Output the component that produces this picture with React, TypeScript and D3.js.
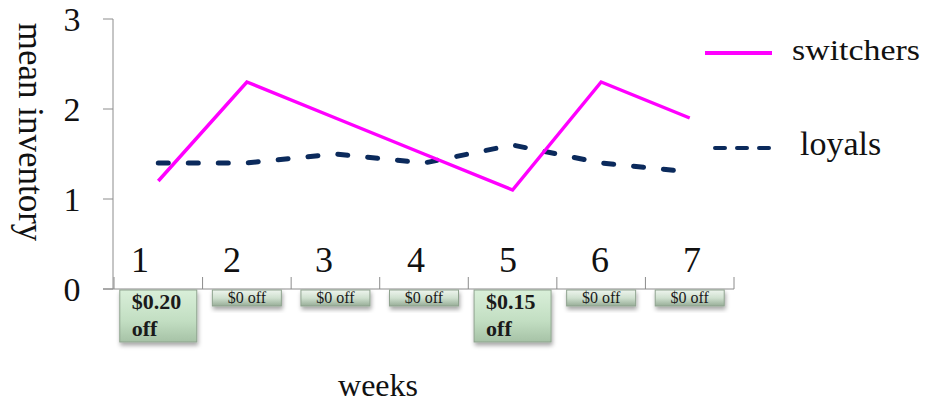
import React from "react";
import * as d3 from "d3";

// weekly data
const weeks = [1, 2, 3, 4, 5, 6, 7];
const switchers = [1.2, 2.3, 1.9, 1.5, 1.1, 2.3, 1.9];
const loyals = [1.4, 1.4, 1.5, 1.4, 1.6, 1.4, 1.3];
const discounts = [0.2, 0, 0, 0, 0.15, 0, 0];
const yTicks = [0, 1, 2, 3];
const seriesNames = ["switchers", "loyals"];

const W = 930;
const H = 406;
const FONT = "'Liberation Serif', 'Times New Roman', serif";

export default function App() {
  const x = d3.scaleBand<number>().domain(weeks).range([114, 734]).padding(0);
  const labelX = d3.scalePoint<number>().domain(weeks).range([140, 692]);
  const y = d3.scaleLinear().domain([0, 3]).range([289, 19]);
  const cx = (w: number) => (x(w) as number) + x.bandwidth() / 2;

  const line = d3
    .line<number>()
    .x((_, i) => cx(weeks[i]))
    .y((d) => y(d));

  const fmt = (v: number) => (v > 0 ? `$${v.toFixed(2)}` : "$0");
  const boundaries = [...weeks.map((w) => x(w) as number), 734];
  const axisColor = "#8c8c8c";

  return (
    <svg width={W} height={H} style={{ position: "absolute", left: 0, top: 0, background: "#fff" }}>
      <defs>
        <linearGradient id="bigBox" x1="0" y1="0" x2="0" y2="1">
          <stop offset="0" stopColor="#d9efd9" />
          <stop offset="0.6" stopColor="#c2dec2" />
          <stop offset="1" stopColor="#a6c2a6" />
        </linearGradient>
        <linearGradient id="smallBox" x1="0" y1="0" x2="0" y2="1">
          <stop offset="0" stopColor="#eef5ee" />
          <stop offset="0.5" stopColor="#cfe0cf" />
          <stop offset="1" stopColor="#97ad97" />
        </linearGradient>
        <filter id="shadow" x="-20%" y="-20%" width="140%" height="160%">
          <feDropShadow dx="1" dy="3" stdDeviation="2" floodColor="#000" floodOpacity="0.35" />
        </filter>
      </defs>

      {/* y axis */}
      <line x1={113} x2={113} y1={y(3)} y2={y(0)} stroke={axisColor} strokeWidth={1} />
      {yTicks.map((t) => (
        <g key={t}>
          <line x1={103} x2={113} y1={y(t)} y2={y(t)} stroke={axisColor} strokeWidth={1} />
          <text x={72} y={y(t) + 12} textAnchor="middle" fontFamily={FONT} fontSize={34} fill="#111">
            {t}
          </text>
        </g>
      ))}
      <text
        transform={`translate(19, 132) rotate(90)`}
        textAnchor="middle"
        fontFamily={FONT}
        fontSize={35}
        fill="#111"
      >
        mean inventory
      </text>

      {/* x axis */}
      <line x1={103} x2={734} y1={y(0)} y2={y(0)} stroke={axisColor} strokeWidth={1} />
      {boundaries.map((b, i) => (
        <line key={i} x1={b} x2={b} y1={y(0) - 12} y2={y(0)} stroke={axisColor} strokeWidth={1} />
      ))}
      {weeks.map((w) => (
        <text key={w} x={labelX(w)} y={272} textAnchor="middle" fontFamily={FONT} fontSize={36} fill="#111">
          {w}
        </text>
      ))}

      {/* price boxes */}
      {weeks.map((w, i) => {
        const d = discounts[i];
        const big = d > 0;
        const bw = big ? 77 : 69;
        const bh = big ? 52 : 16;
        const left = cx(w) - bw / 2;
        return (
          <g key={w}>
            <rect
              x={left}
              y={290}
              width={bw}
              height={bh}
              fill={big ? "url(#bigBox)" : "url(#smallBox)"}
              stroke="#8fa38f"
              strokeWidth={1}
              filter="url(#shadow)"
            />
            {big ? (
              <text fontFamily={FONT} fontSize={22} fontWeight="bold" fill="#1a1a1a">
                <tspan x={left + 12} y={309}>
                  {fmt(d)}
                </tspan>
                <tspan x={left + 12} y={336}>
                  off
                </tspan>
              </text>
            ) : (
              <text x={cx(w)} y={303} textAnchor="middle" fontFamily={FONT} fontSize={16} fill="#1a1a1a">
                {`${fmt(d)} off`}
              </text>
            )}
          </g>
        );
      })}

      <text x={378} y={396} textAnchor="middle" fontFamily={FONT} fontSize={32} fill="#111">
        weeks
      </text>

      {/* series */}
      <path d={line(loyals) ?? ""} fill="none" stroke="#0b2a5c" strokeWidth={5} strokeDasharray="10 20" strokeLinecap="round" />
      <path d={line(switchers) ?? ""} fill="none" stroke="#ff00ff" strokeWidth={3.5} strokeLinejoin="miter" />

      {/* legend */}
      <line x1={705} x2={772} y1={53} y2={53} stroke="#ff00ff" strokeWidth={4} />
      <text x={792} y={60} fontFamily={FONT} fontSize={29} textLength={128} lengthAdjust="spacingAndGlyphs" fill="#111">
        {seriesNames[0]}
      </text>
      <line x1={715} x2={773} y1={148} y2={148} stroke="#0b2a5c" strokeWidth={4} strokeDasharray="10 12" strokeLinecap="round" />
      <text x={800} y={155} fontFamily={FONT} fontSize={34} fill="#111">
        {seriesNames[1]}
      </text>
    </svg>
  );
}
